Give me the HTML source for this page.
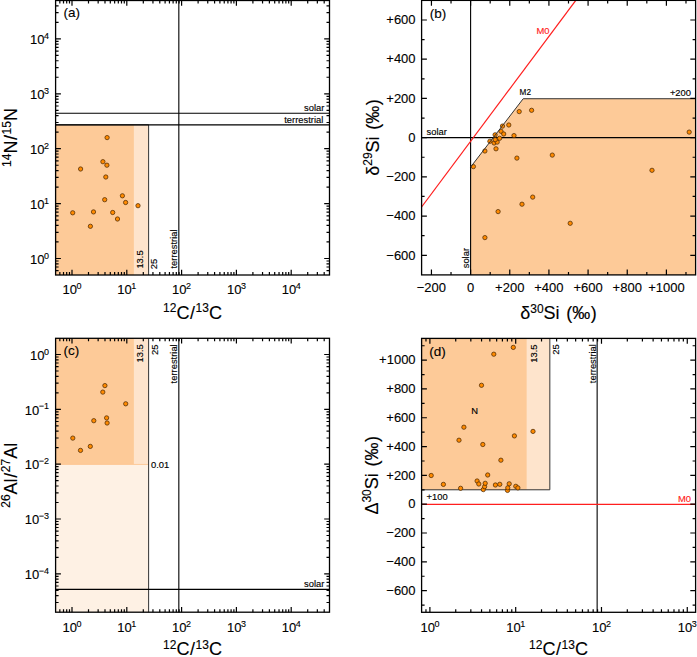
<!DOCTYPE html>
<html><head><meta charset="utf-8"><style>
html,body{margin:0;padding:0;background:#fff;width:697px;height:657px;overflow:hidden}
svg{display:block}
text{font-family:"Liberation Sans",sans-serif;stroke:currentColor;stroke-width:0.12px}
.a{stroke-width:0.15px}
</style></head><body>
<svg width="697" height="657" viewBox="0 0 697 657" font-family="Liberation Sans, sans-serif">
<rect width="697" height="657" fill="#fff"/>
<rect x="55.6" y="124.84" width="78.34" height="150.16" fill="#fdca98"/>
<rect x="133.94" y="124.84" width="14.66" height="150.16" fill="#fee4cc"/>
<path d="M148.61 275V124.84H55.6" stroke="#333" stroke-width="1" fill="none"/>
<path d="M55.6 113.32H329.5 M55.6 124.84H329.5 M178.83 0.5V275" stroke="#000" stroke-width="1.1" fill="none"/>
<circle cx="107.1" cy="137.6" r="2.15" fill="#ff8a00" stroke="#4f2a00" stroke-width="0.75"/>
<circle cx="102.9" cy="161.7" r="2.15" fill="#ff8a00" stroke="#4f2a00" stroke-width="0.75"/>
<circle cx="106.9" cy="165.2" r="2.15" fill="#ff8a00" stroke="#4f2a00" stroke-width="0.75"/>
<circle cx="80.6" cy="169" r="2.15" fill="#ff8a00" stroke="#4f2a00" stroke-width="0.75"/>
<circle cx="105.8" cy="177" r="2.15" fill="#ff8a00" stroke="#4f2a00" stroke-width="0.75"/>
<circle cx="122.4" cy="195.8" r="2.15" fill="#ff8a00" stroke="#4f2a00" stroke-width="0.75"/>
<circle cx="104.7" cy="199.7" r="2.15" fill="#ff8a00" stroke="#4f2a00" stroke-width="0.75"/>
<circle cx="125.6" cy="202.5" r="2.15" fill="#ff8a00" stroke="#4f2a00" stroke-width="0.75"/>
<circle cx="138" cy="205.7" r="2.15" fill="#ff8a00" stroke="#4f2a00" stroke-width="0.75"/>
<circle cx="72.7" cy="212.8" r="2.15" fill="#ff8a00" stroke="#4f2a00" stroke-width="0.75"/>
<circle cx="93.5" cy="211.9" r="2.15" fill="#ff8a00" stroke="#4f2a00" stroke-width="0.75"/>
<circle cx="112.7" cy="212.5" r="2.15" fill="#ff8a00" stroke="#4f2a00" stroke-width="0.75"/>
<circle cx="117.5" cy="219" r="2.15" fill="#ff8a00" stroke="#4f2a00" stroke-width="0.75"/>
<circle cx="90.4" cy="226.3" r="2.15" fill="#ff8a00" stroke="#4f2a00" stroke-width="0.75"/>
<path d="M72 275V269.7M72 0.5V5.8M126.8 275V269.7M126.8 0.5V5.8M181.6 275V269.7M181.6 0.5V5.8M236.4 275V269.7M236.4 0.5V5.8M291.2 275V269.7M291.2 0.5V5.8M59.84 275V272M59.84 0.5V3.5M63.51 275V272M63.51 0.5V3.5M66.69 275V272M66.69 0.5V3.5M69.49 275V272M69.49 0.5V3.5M88.5 275V272M88.5 0.5V3.5M98.15 275V272M98.15 0.5V3.5M104.99 275V272M104.99 0.5V3.5M110.3 275V272M110.3 0.5V3.5M114.64 275V272M114.64 0.5V3.5M118.31 275V272M118.31 0.5V3.5M121.49 275V272M121.49 0.5V3.5M124.29 275V272M124.29 0.5V3.5M143.3 275V272M143.3 0.5V3.5M152.95 275V272M152.95 0.5V3.5M159.79 275V272M159.79 0.5V3.5M165.1 275V272M165.1 0.5V3.5M169.44 275V272M169.44 0.5V3.5M173.11 275V272M173.11 0.5V3.5M176.29 275V272M176.29 0.5V3.5M179.09 275V272M179.09 0.5V3.5M198.1 275V272M198.1 0.5V3.5M207.75 275V272M207.75 0.5V3.5M214.59 275V272M214.59 0.5V3.5M219.9 275V272M219.9 0.5V3.5M224.24 275V272M224.24 0.5V3.5M227.91 275V272M227.91 0.5V3.5M231.09 275V272M231.09 0.5V3.5M233.89 275V272M233.89 0.5V3.5M252.9 275V272M252.9 0.5V3.5M262.55 275V272M262.55 0.5V3.5M269.39 275V272M269.39 0.5V3.5M274.7 275V272M274.7 0.5V3.5M279.04 275V272M279.04 0.5V3.5M282.71 275V272M282.71 0.5V3.5M285.89 275V272M285.89 0.5V3.5M288.69 275V272M288.69 0.5V3.5M307.7 275V272M307.7 0.5V3.5M317.35 275V272M317.35 0.5V3.5M324.19 275V272M324.19 0.5V3.5M55.6 258.5H60.9M329.5 258.5H324.2M55.6 203.6H60.9M329.5 203.6H324.2M55.6 148.7H60.9M329.5 148.7H324.2M55.6 93.8H60.9M329.5 93.8H324.2M55.6 38.9H60.9M329.5 38.9H324.2M55.6 270.68H58.6M329.5 270.68H326.5M55.6 267H58.6M329.5 267H326.5M55.6 263.82H58.6M329.5 263.82H326.5M55.6 261.01H58.6M329.5 261.01H326.5M55.6 241.97H58.6M329.5 241.97H326.5M55.6 232.31H58.6M329.5 232.31H326.5M55.6 225.45H58.6M329.5 225.45H326.5M55.6 220.13H58.6M329.5 220.13H326.5M55.6 215.78H58.6M329.5 215.78H326.5M55.6 212.1H58.6M329.5 212.1H326.5M55.6 208.92H58.6M329.5 208.92H326.5M55.6 206.11H58.6M329.5 206.11H326.5M55.6 187.07H58.6M329.5 187.07H326.5M55.6 177.41H58.6M329.5 177.41H326.5M55.6 170.55H58.6M329.5 170.55H326.5M55.6 165.23H58.6M329.5 165.23H326.5M55.6 160.88H58.6M329.5 160.88H326.5M55.6 157.2H58.6M329.5 157.2H326.5M55.6 154.02H58.6M329.5 154.02H326.5M55.6 151.21H58.6M329.5 151.21H326.5M55.6 132.17H58.6M329.5 132.17H326.5M55.6 122.51H58.6M329.5 122.51H326.5M55.6 115.65H58.6M329.5 115.65H326.5M55.6 110.33H58.6M329.5 110.33H326.5M55.6 105.98H58.6M329.5 105.98H326.5M55.6 102.3H58.6M329.5 102.3H326.5M55.6 99.12H58.6M329.5 99.12H326.5M55.6 96.31H58.6M329.5 96.31H326.5M55.6 77.27H58.6M329.5 77.27H326.5M55.6 67.61H58.6M329.5 67.61H326.5M55.6 60.75H58.6M329.5 60.75H326.5M55.6 55.43H58.6M329.5 55.43H326.5M55.6 51.08H58.6M329.5 51.08H326.5M55.6 47.4H58.6M329.5 47.4H326.5M55.6 44.22H58.6M329.5 44.22H326.5M55.6 41.41H58.6M329.5 41.41H326.5M55.6 22.37H58.6M329.5 22.37H326.5M55.6 12.71H58.6M329.5 12.71H326.5M55.6 5.85H58.6M329.5 5.85H326.5" stroke="#000" stroke-width="1.2" fill="none"/>
<rect x="55.6" y="0.5" width="273.9" height="274.5" fill="none" stroke="#000" stroke-width="1.3"/>
<text x="72" y="293.8" text-anchor="middle" font-size="13">10<tspan font-size="9" dx="-0.5" dy="-5.2">0</tspan></text>
<text x="49" y="263.7" text-anchor="end" font-size="13">10<tspan font-size="9" dx="-0.5" dy="-5.2">0</tspan></text>
<text x="126.8" y="293.8" text-anchor="middle" font-size="13">10<tspan font-size="9" dx="-0.5" dy="-5.2">1</tspan></text>
<text x="49" y="208.8" text-anchor="end" font-size="13">10<tspan font-size="9" dx="-0.5" dy="-5.2">1</tspan></text>
<text x="181.6" y="293.8" text-anchor="middle" font-size="13">10<tspan font-size="9" dx="-0.5" dy="-5.2">2</tspan></text>
<text x="49" y="153.9" text-anchor="end" font-size="13">10<tspan font-size="9" dx="-0.5" dy="-5.2">2</tspan></text>
<text x="236.4" y="293.8" text-anchor="middle" font-size="13">10<tspan font-size="9" dx="-0.5" dy="-5.2">3</tspan></text>
<text x="49" y="99" text-anchor="end" font-size="13">10<tspan font-size="9" dx="-0.5" dy="-5.2">3</tspan></text>
<text x="291.2" y="293.8" text-anchor="middle" font-size="13">10<tspan font-size="9" dx="-0.5" dy="-5.2">4</tspan></text>
<text x="49" y="44.1" text-anchor="end" font-size="13">10<tspan font-size="9" dx="-0.5" dy="-5.2">4</tspan></text>
<text x="63.6" y="17.4" font-size="13.5" text-anchor="start">(a)</text>
<text class="a" x="324.4" y="110.92" font-size="9.4" text-anchor="end">solar</text>
<text class="a" x="323.3" y="123.04" font-size="9.4" text-anchor="end">terrestrial</text>
<text class="a" transform="translate(143 268.6) rotate(-90)" font-size="9.4" text-anchor="start">13.5</text>
<text class="a" transform="translate(157 269.2) rotate(-90)" font-size="9.4" text-anchor="start">25</text>
<text class="a" transform="translate(177.3 268.5) rotate(-90)" font-size="9.4" text-anchor="start">terrestrial</text>
<text x="192.5" y="318.6" font-size="18" text-anchor="middle"><tspan font-size="12" dy="-6.5">12</tspan><tspan dy="6.5">C</tspan><tspan dx="0.6">/</tspan><tspan font-size="12" dx="0.6" dy="-6.5">13</tspan><tspan dy="6.5">C</tspan></text>
<text transform="translate(17.1 137.5) rotate(-90)" font-size="18" text-anchor="middle"><tspan font-size="12" dy="-6.5">14</tspan><tspan dy="6.5">N</tspan><tspan dx="0.6">/</tspan><tspan font-size="12" dx="0.6" dy="-6.5">15</tspan><tspan dy="6.5">N</tspan></text>
<path d="M470.6 274.9 V167.1 L523.2 98.73 H695.6 V274.9 Z" fill="#fdca98"/>
<path d="M421.6 137.65H695.6 M470.6 0.4V274.9" stroke="#000" stroke-width="1.1" fill="none"/>
<path d="M421.6 207L575.8 0.4" stroke="#ff1e1e" stroke-width="1.25" fill="none"/>
<circle cx="473.4" cy="166.6" r="2.15" fill="#ff8a00" stroke="#4f2a00" stroke-width="0.75"/>
<circle cx="484.9" cy="151" r="2.15" fill="#ff8a00" stroke="#4f2a00" stroke-width="0.75"/>
<circle cx="496" cy="148.8" r="2.15" fill="#ff8a00" stroke="#4f2a00" stroke-width="0.75"/>
<circle cx="489.9" cy="141.3" r="2.15" fill="#ff8a00" stroke="#4f2a00" stroke-width="0.75"/>
<circle cx="494.1" cy="143" r="2.15" fill="#ff8a00" stroke="#4f2a00" stroke-width="0.75"/>
<circle cx="497.2" cy="142.1" r="2.15" fill="#ff8a00" stroke="#4f2a00" stroke-width="0.75"/>
<circle cx="495.2" cy="139.7" r="2.15" fill="#ff8a00" stroke="#4f2a00" stroke-width="0.75"/>
<circle cx="499.6" cy="138.3" r="2.15" fill="#ff8a00" stroke="#4f2a00" stroke-width="0.75"/>
<circle cx="495.1" cy="134.8" r="2.15" fill="#ff8a00" stroke="#4f2a00" stroke-width="0.75"/>
<circle cx="501" cy="131.3" r="2.15" fill="#ff8a00" stroke="#4f2a00" stroke-width="0.75"/>
<circle cx="503.7" cy="134" r="2.15" fill="#ff8a00" stroke="#4f2a00" stroke-width="0.75"/>
<circle cx="502.5" cy="126.1" r="2.15" fill="#ff8a00" stroke="#4f2a00" stroke-width="0.75"/>
<circle cx="508.8" cy="125" r="2.15" fill="#ff8a00" stroke="#4f2a00" stroke-width="0.75"/>
<circle cx="514" cy="135.6" r="2.15" fill="#ff8a00" stroke="#4f2a00" stroke-width="0.75"/>
<circle cx="519.2" cy="111.6" r="2.15" fill="#ff8a00" stroke="#4f2a00" stroke-width="0.75"/>
<circle cx="531.6" cy="110.3" r="2.15" fill="#ff8a00" stroke="#4f2a00" stroke-width="0.75"/>
<circle cx="516.9" cy="158.1" r="2.15" fill="#ff8a00" stroke="#4f2a00" stroke-width="0.75"/>
<circle cx="552.3" cy="155.1" r="2.15" fill="#ff8a00" stroke="#4f2a00" stroke-width="0.75"/>
<circle cx="532.7" cy="197.1" r="2.15" fill="#ff8a00" stroke="#4f2a00" stroke-width="0.75"/>
<circle cx="522" cy="204.2" r="2.15" fill="#ff8a00" stroke="#4f2a00" stroke-width="0.75"/>
<circle cx="498.1" cy="211.6" r="2.15" fill="#ff8a00" stroke="#4f2a00" stroke-width="0.75"/>
<circle cx="570.2" cy="223.3" r="2.15" fill="#ff8a00" stroke="#4f2a00" stroke-width="0.75"/>
<circle cx="484.9" cy="237.6" r="2.15" fill="#ff8a00" stroke="#4f2a00" stroke-width="0.75"/>
<circle cx="652" cy="170.3" r="2.15" fill="#ff8a00" stroke="#4f2a00" stroke-width="0.75"/>
<circle cx="689.2" cy="132.1" r="2.15" fill="#ff8a00" stroke="#4f2a00" stroke-width="0.75"/>
<path d="M470.6 167.1L523.2 98.73H695.6" stroke="#333" stroke-width="1" fill="none"/>
<path d="M431.44 274.9V269.6M431.44 0.4V5.7M470.6 274.9V269.6M470.6 0.4V5.7M509.76 274.9V269.6M509.76 0.4V5.7M548.92 274.9V269.6M548.92 0.4V5.7M588.08 274.9V269.6M588.08 0.4V5.7M627.24 274.9V269.6M627.24 0.4V5.7M666.4 274.9V269.6M666.4 0.4V5.7M451.02 274.9V271.9M451.02 0.4V3.4M490.18 274.9V271.9M490.18 0.4V3.4M529.34 274.9V271.9M529.34 0.4V3.4M568.5 274.9V271.9M568.5 0.4V3.4M607.66 274.9V271.9M607.66 0.4V3.4M646.82 274.9V271.9M646.82 0.4V3.4M685.98 274.9V271.9M685.98 0.4V3.4M421.6 255.3H426.9M695.6 255.3H690.3M421.6 216.08H426.9M695.6 216.08H690.3M421.6 176.87H426.9M695.6 176.87H690.3M421.6 137.65H426.9M695.6 137.65H690.3M421.6 98.43H426.9M695.6 98.43H690.3M421.6 59.22H426.9M695.6 59.22H690.3M421.6 20H426.9M695.6 20H690.3M421.6 235.69H424.6M695.6 235.69H692.6M421.6 196.47H424.6M695.6 196.47H692.6M421.6 157.26H424.6M695.6 157.26H692.6M421.6 118.04H424.6M695.6 118.04H692.6M421.6 78.83H424.6M695.6 78.83H692.6M421.6 39.61H424.6M695.6 39.61H692.6" stroke="#000" stroke-width="1.2" fill="none"/>
<rect x="421.6" y="0.4" width="274" height="274.5" fill="none" stroke="#000" stroke-width="1.3"/>
<text x="431.44" y="291.8" font-size="13" text-anchor="middle">−200</text>
<text x="470.6" y="291.8" font-size="13" text-anchor="middle">0</text>
<text x="509.76" y="291.8" font-size="13" text-anchor="middle">+200</text>
<text x="548.92" y="291.8" font-size="13" text-anchor="middle">+400</text>
<text x="588.08" y="291.8" font-size="13" text-anchor="middle">+600</text>
<text x="627.24" y="291.8" font-size="13" text-anchor="middle">+800</text>
<text x="666.4" y="291.8" font-size="13" text-anchor="middle">+1000</text>
<text x="415.6" y="259.5" font-size="13" text-anchor="end">−600</text>
<text x="415.6" y="220.28" font-size="13" text-anchor="end">−400</text>
<text x="415.6" y="181.07" font-size="13" text-anchor="end">−200</text>
<text x="415.6" y="141.85" font-size="13" text-anchor="end">0</text>
<text x="415.6" y="102.63" font-size="13" text-anchor="end">+200</text>
<text x="415.6" y="63.42" font-size="13" text-anchor="end">+400</text>
<text x="415.6" y="24.2" font-size="13" text-anchor="end">+600</text>
<text x="429.7" y="17.6" font-size="13.5" text-anchor="start">(b)</text>
<text class="a" x="426.5" y="135" font-size="9.4" text-anchor="start">solar</text>
<text class="a" transform="translate(468.6 268.3) rotate(-90)" font-size="9.4" text-anchor="start">solar</text>
<text class="a" x="536.5" y="34.2" font-size="9.4" text-anchor="start" style="fill:#ff1e1e;stroke:#ff1e1e">M0</text>
<text x="519.6" y="95" font-size="8.2" text-anchor="start" class="a">M2</text>
<text class="a" x="691" y="95.8" font-size="9.4" text-anchor="end">+200</text>
<text x="558.5" y="319" font-size="18" text-anchor="middle">δ<tspan font-size="12" dy="-6.5">30</tspan><tspan dy="6.5">Si</tspan><tspan dx="1.6"> (‰</tspan><tspan dx="0.6">)</tspan></text>
<text transform="translate(378.7 137.5) rotate(-90)" font-size="18" text-anchor="middle">δ<tspan font-size="12" dy="-6.5">29</tspan><tspan dy="6.5">Si</tspan><tspan dx="1.6"> (‰</tspan><tspan dx="0.6">)</tspan></text>
<rect x="55.6" y="338.3" width="93.01" height="273.9" fill="#fef1e4"/>
<rect x="55.6" y="338.3" width="78.34" height="125.86" fill="#fdca98"/>
<rect x="133.94" y="338.3" width="14.66" height="125.86" fill="#fee4cc"/>
<path d="M55.6 464.46H148.61" stroke="#fcc189" stroke-width="0.8" fill="none"/>
<path d="M148.61 338.3V612.2" stroke="#333" stroke-width="1" fill="none"/>
<path d="M178.83 338.3V612.2 M55.6 589.39H329.5" stroke="#000" stroke-width="1.1" fill="none"/>
<circle cx="104.9" cy="385.6" r="2.15" fill="#ff8a00" stroke="#4f2a00" stroke-width="0.75"/>
<circle cx="102.8" cy="392.1" r="2.15" fill="#ff8a00" stroke="#4f2a00" stroke-width="0.75"/>
<circle cx="125.7" cy="403.8" r="2.15" fill="#ff8a00" stroke="#4f2a00" stroke-width="0.75"/>
<circle cx="106.6" cy="417.9" r="2.15" fill="#ff8a00" stroke="#4f2a00" stroke-width="0.75"/>
<circle cx="93.8" cy="420.7" r="2.15" fill="#ff8a00" stroke="#4f2a00" stroke-width="0.75"/>
<circle cx="107.1" cy="423" r="2.15" fill="#ff8a00" stroke="#4f2a00" stroke-width="0.75"/>
<circle cx="72.8" cy="438.1" r="2.15" fill="#ff8a00" stroke="#4f2a00" stroke-width="0.75"/>
<circle cx="90.3" cy="446.4" r="2.15" fill="#ff8a00" stroke="#4f2a00" stroke-width="0.75"/>
<circle cx="80.5" cy="450.4" r="2.15" fill="#ff8a00" stroke="#4f2a00" stroke-width="0.75"/>
<path d="M72 612.2V606.9M72 338.3V343.6M126.8 612.2V606.9M126.8 338.3V343.6M181.6 612.2V606.9M181.6 338.3V343.6M236.4 612.2V606.9M236.4 338.3V343.6M291.2 612.2V606.9M291.2 338.3V343.6M59.84 612.2V609.2M59.84 338.3V341.3M63.51 612.2V609.2M63.51 338.3V341.3M66.69 612.2V609.2M66.69 338.3V341.3M69.49 612.2V609.2M69.49 338.3V341.3M88.5 612.2V609.2M88.5 338.3V341.3M98.15 612.2V609.2M98.15 338.3V341.3M104.99 612.2V609.2M104.99 338.3V341.3M110.3 612.2V609.2M110.3 338.3V341.3M114.64 612.2V609.2M114.64 338.3V341.3M118.31 612.2V609.2M118.31 338.3V341.3M121.49 612.2V609.2M121.49 338.3V341.3M124.29 612.2V609.2M124.29 338.3V341.3M143.3 612.2V609.2M143.3 338.3V341.3M152.95 612.2V609.2M152.95 338.3V341.3M159.79 612.2V609.2M159.79 338.3V341.3M165.1 612.2V609.2M165.1 338.3V341.3M169.44 612.2V609.2M169.44 338.3V341.3M173.11 612.2V609.2M173.11 338.3V341.3M176.29 612.2V609.2M176.29 338.3V341.3M179.09 612.2V609.2M179.09 338.3V341.3M198.1 612.2V609.2M198.1 338.3V341.3M207.75 612.2V609.2M207.75 338.3V341.3M214.59 612.2V609.2M214.59 338.3V341.3M219.9 612.2V609.2M219.9 338.3V341.3M224.24 612.2V609.2M224.24 338.3V341.3M227.91 612.2V609.2M227.91 338.3V341.3M231.09 612.2V609.2M231.09 338.3V341.3M233.89 612.2V609.2M233.89 338.3V341.3M252.9 612.2V609.2M252.9 338.3V341.3M262.55 612.2V609.2M262.55 338.3V341.3M269.39 612.2V609.2M269.39 338.3V341.3M274.7 612.2V609.2M274.7 338.3V341.3M279.04 612.2V609.2M279.04 338.3V341.3M282.71 612.2V609.2M282.71 338.3V341.3M285.89 612.2V609.2M285.89 338.3V341.3M288.69 612.2V609.2M288.69 338.3V341.3M307.7 612.2V609.2M307.7 338.3V341.3M317.35 612.2V609.2M317.35 338.3V341.3M324.19 612.2V609.2M324.19 338.3V341.3M55.6 573.82H60.9M329.5 573.82H324.2M55.6 518.99H60.9M329.5 518.99H324.2M55.6 464.16H60.9M329.5 464.16H324.2M55.6 409.33H60.9M329.5 409.33H324.2M55.6 354.5H60.9M329.5 354.5H324.2M55.6 602.49H58.6M329.5 602.49H326.5M55.6 595.64H58.6M329.5 595.64H326.5M55.6 590.33H58.6M329.5 590.33H326.5M55.6 585.98H58.6M329.5 585.98H326.5M55.6 582.31H58.6M329.5 582.31H326.5M55.6 579.13H58.6M329.5 579.13H326.5M55.6 576.33H58.6M329.5 576.33H326.5M55.6 557.31H58.6M329.5 557.31H326.5M55.6 547.66H58.6M329.5 547.66H326.5M55.6 540.81H58.6M329.5 540.81H326.5M55.6 535.5H58.6M329.5 535.5H326.5M55.6 531.15H58.6M329.5 531.15H326.5M55.6 527.48H58.6M329.5 527.48H326.5M55.6 524.3H58.6M329.5 524.3H326.5M55.6 521.5H58.6M329.5 521.5H326.5M55.6 502.48H58.6M329.5 502.48H326.5M55.6 492.83H58.6M329.5 492.83H326.5M55.6 485.98H58.6M329.5 485.98H326.5M55.6 480.67H58.6M329.5 480.67H326.5M55.6 476.32H58.6M329.5 476.32H326.5M55.6 472.65H58.6M329.5 472.65H326.5M55.6 469.47H58.6M329.5 469.47H326.5M55.6 466.67H58.6M329.5 466.67H326.5M55.6 447.65H58.6M329.5 447.65H326.5M55.6 438H58.6M329.5 438H326.5M55.6 431.15H58.6M329.5 431.15H326.5M55.6 425.84H58.6M329.5 425.84H326.5M55.6 421.49H58.6M329.5 421.49H326.5M55.6 417.82H58.6M329.5 417.82H326.5M55.6 414.64H58.6M329.5 414.64H326.5M55.6 411.84H58.6M329.5 411.84H326.5M55.6 392.82H58.6M329.5 392.82H326.5M55.6 383.17H58.6M329.5 383.17H326.5M55.6 376.32H58.6M329.5 376.32H326.5M55.6 371.01H58.6M329.5 371.01H326.5M55.6 366.66H58.6M329.5 366.66H326.5M55.6 362.99H58.6M329.5 362.99H326.5M55.6 359.81H58.6M329.5 359.81H326.5M55.6 357.01H58.6M329.5 357.01H326.5" stroke="#000" stroke-width="1.2" fill="none"/>
<rect x="55.6" y="338.3" width="273.9" height="273.9" fill="none" stroke="#000" stroke-width="1.3"/>
<text x="72" y="631.9" text-anchor="middle" font-size="13">10<tspan font-size="9" dx="-0.5" dy="-5.2">0</tspan></text>
<text x="126.8" y="631.9" text-anchor="middle" font-size="13">10<tspan font-size="9" dx="-0.5" dy="-5.2">1</tspan></text>
<text x="181.6" y="631.9" text-anchor="middle" font-size="13">10<tspan font-size="9" dx="-0.5" dy="-5.2">2</tspan></text>
<text x="236.4" y="631.9" text-anchor="middle" font-size="13">10<tspan font-size="9" dx="-0.5" dy="-5.2">3</tspan></text>
<text x="291.2" y="631.9" text-anchor="middle" font-size="13">10<tspan font-size="9" dx="-0.5" dy="-5.2">4</tspan></text>
<text x="49" y="579.02" text-anchor="end" font-size="13">10<tspan font-size="9" dx="-0.5" dy="-5.2">−4</tspan></text>
<text x="49" y="524.19" text-anchor="end" font-size="13">10<tspan font-size="9" dx="-0.5" dy="-5.2">−3</tspan></text>
<text x="49" y="469.36" text-anchor="end" font-size="13">10<tspan font-size="9" dx="-0.5" dy="-5.2">−2</tspan></text>
<text x="49" y="414.53" text-anchor="end" font-size="13">10<tspan font-size="9" dx="-0.5" dy="-5.2">−1</tspan></text>
<text x="49" y="359.7" text-anchor="end" font-size="13">10<tspan font-size="9" dx="-0.5" dy="-5.2">0</tspan></text>
<text x="63.6" y="355.4" font-size="13.5" text-anchor="start">(c)</text>
<text class="a" x="324.4" y="587.19" font-size="9.4" text-anchor="end">solar</text>
<text class="a" x="151" y="468.36" font-size="9.4" text-anchor="start">0.01</text>
<text class="a" transform="translate(143 344.3) rotate(-90)" font-size="9.4" text-anchor="end">13.5</text>
<text class="a" transform="translate(157.5 344.5) rotate(-90)" font-size="9.4" text-anchor="end">25</text>
<text class="a" transform="translate(177.3 344.3) rotate(-90)" font-size="9.4" text-anchor="end">terrestrial</text>
<text x="192.5" y="655" font-size="18" text-anchor="middle"><tspan font-size="12" dy="-6.5">12</tspan><tspan dy="6.5">C</tspan><tspan dx="0.6">/</tspan><tspan font-size="12" dx="0.6" dy="-6.5">13</tspan><tspan dy="6.5">C</tspan></text>
<text transform="translate(16.9 475.3) rotate(-90)" font-size="18" text-anchor="middle"><tspan font-size="12" dy="-6.5">26</tspan><tspan dy="6.5">Al</tspan><tspan dx="0.6">/</tspan><tspan font-size="12" dx="0.6" dy="-6.5">27</tspan><tspan dy="6.5">Al</tspan></text>
<rect x="421.6" y="338.4" width="105.27" height="151.39" fill="#fdca98"/>
<rect x="526.87" y="338.4" width="22.96" height="151.39" fill="#fee4cc"/>
<path d="M421.6 489.79H549.83V338.4" stroke="#333" stroke-width="1" fill="none"/>
<path d="M597.14 338.4V612.3" stroke="#000" stroke-width="1.1" fill="none"/>
<path d="M421.6 504.4H695.6" stroke="#ff1e1e" stroke-width="1.1" fill="none"/>
<circle cx="513.3" cy="347.4" r="2.15" fill="#ff8a00" stroke="#4f2a00" stroke-width="0.75"/>
<circle cx="493.8" cy="354.2" r="2.15" fill="#ff8a00" stroke="#4f2a00" stroke-width="0.75"/>
<circle cx="481.5" cy="385.3" r="2.15" fill="#ff8a00" stroke="#4f2a00" stroke-width="0.75"/>
<circle cx="463.9" cy="427.2" r="2.15" fill="#ff8a00" stroke="#4f2a00" stroke-width="0.75"/>
<circle cx="533" cy="431.4" r="2.15" fill="#ff8a00" stroke="#4f2a00" stroke-width="0.75"/>
<circle cx="514.4" cy="435.9" r="2.15" fill="#ff8a00" stroke="#4f2a00" stroke-width="0.75"/>
<circle cx="459" cy="440.2" r="2.15" fill="#ff8a00" stroke="#4f2a00" stroke-width="0.75"/>
<circle cx="482.8" cy="444.5" r="2.15" fill="#ff8a00" stroke="#4f2a00" stroke-width="0.75"/>
<circle cx="500.9" cy="460.2" r="2.15" fill="#ff8a00" stroke="#4f2a00" stroke-width="0.75"/>
<circle cx="431.2" cy="475.5" r="2.15" fill="#ff8a00" stroke="#4f2a00" stroke-width="0.75"/>
<circle cx="487.7" cy="475" r="2.15" fill="#ff8a00" stroke="#4f2a00" stroke-width="0.75"/>
<circle cx="443.4" cy="484.4" r="2.15" fill="#ff8a00" stroke="#4f2a00" stroke-width="0.75"/>
<circle cx="477.1" cy="481" r="2.15" fill="#ff8a00" stroke="#4f2a00" stroke-width="0.75"/>
<circle cx="478.8" cy="484" r="2.15" fill="#ff8a00" stroke="#4f2a00" stroke-width="0.75"/>
<circle cx="483.3" cy="489.6" r="2.15" fill="#ff8a00" stroke="#4f2a00" stroke-width="0.75"/>
<circle cx="484.6" cy="486.7" r="2.15" fill="#ff8a00" stroke="#4f2a00" stroke-width="0.75"/>
<circle cx="485.2" cy="483.3" r="2.15" fill="#ff8a00" stroke="#4f2a00" stroke-width="0.75"/>
<circle cx="495.4" cy="485" r="2.15" fill="#ff8a00" stroke="#4f2a00" stroke-width="0.75"/>
<circle cx="499.8" cy="484.3" r="2.15" fill="#ff8a00" stroke="#4f2a00" stroke-width="0.75"/>
<circle cx="507.5" cy="490.4" r="2.15" fill="#ff8a00" stroke="#4f2a00" stroke-width="0.75"/>
<circle cx="507.8" cy="487.8" r="2.15" fill="#ff8a00" stroke="#4f2a00" stroke-width="0.75"/>
<circle cx="509.2" cy="483.8" r="2.15" fill="#ff8a00" stroke="#4f2a00" stroke-width="0.75"/>
<circle cx="515.8" cy="486.3" r="2.15" fill="#ff8a00" stroke="#4f2a00" stroke-width="0.75"/>
<circle cx="517.9" cy="487.9" r="2.15" fill="#ff8a00" stroke="#4f2a00" stroke-width="0.75"/>
<circle cx="460.6" cy="488.3" r="2.15" fill="#ff8a00" stroke="#4f2a00" stroke-width="0.75"/>
<path d="M429.9 612.3V607M429.9 338.4V343.7M515.69 612.3V607M515.69 338.4V343.7M601.48 612.3V607M601.48 338.4V343.7M687.27 612.3V607M687.27 338.4V343.7M425.97 612.3V609.3M425.97 338.4V341.4M455.73 612.3V609.3M455.73 338.4V341.4M470.83 612.3V609.3M470.83 338.4V341.4M481.55 612.3V609.3M481.55 338.4V341.4M489.86 612.3V609.3M489.86 338.4V341.4M496.66 612.3V609.3M496.66 338.4V341.4M502.4 612.3V609.3M502.4 338.4V341.4M507.38 612.3V609.3M507.38 338.4V341.4M511.76 612.3V609.3M511.76 338.4V341.4M541.52 612.3V609.3M541.52 338.4V341.4M556.62 612.3V609.3M556.62 338.4V341.4M567.34 612.3V609.3M567.34 338.4V341.4M575.65 612.3V609.3M575.65 338.4V341.4M582.45 612.3V609.3M582.45 338.4V341.4M588.19 612.3V609.3M588.19 338.4V341.4M593.17 612.3V609.3M593.17 338.4V341.4M597.55 612.3V609.3M597.55 338.4V341.4M627.31 612.3V609.3M627.31 338.4V341.4M642.41 612.3V609.3M642.41 338.4V341.4M653.13 612.3V609.3M653.13 338.4V341.4M661.44 612.3V609.3M661.44 338.4V341.4M668.24 612.3V609.3M668.24 338.4V341.4M673.98 612.3V609.3M673.98 338.4V341.4M678.96 612.3V609.3M678.96 338.4V341.4M683.34 612.3V609.3M683.34 338.4V341.4M421.6 590.64H426.9M695.6 590.64H690.3M421.6 561.82H426.9M695.6 561.82H690.3M421.6 533.01H426.9M695.6 533.01H690.3M421.6 504.2H426.9M695.6 504.2H690.3M421.6 475.39H426.9M695.6 475.39H690.3M421.6 446.58H426.9M695.6 446.58H690.3M421.6 417.76H426.9M695.6 417.76H690.3M421.6 388.95H426.9M695.6 388.95H690.3M421.6 360.14H426.9M695.6 360.14H690.3M421.6 605.04H424.6M695.6 605.04H692.6M421.6 576.23H424.6M695.6 576.23H692.6M421.6 547.42H424.6M695.6 547.42H692.6M421.6 518.61H424.6M695.6 518.61H692.6M421.6 489.79H424.6M695.6 489.79H692.6M421.6 460.98H424.6M695.6 460.98H692.6M421.6 432.17H424.6M695.6 432.17H692.6M421.6 403.36H424.6M695.6 403.36H692.6M421.6 374.55H424.6M695.6 374.55H692.6M421.6 345.73H424.6M695.6 345.73H692.6" stroke="#000" stroke-width="1.2" fill="none"/>
<rect x="421.6" y="338.4" width="274" height="273.9" fill="none" stroke="#000" stroke-width="1.3"/>
<text x="429.9" y="631.9" text-anchor="middle" font-size="13">10<tspan font-size="9" dx="-0.5" dy="-5.2">0</tspan></text>
<text x="515.69" y="631.9" text-anchor="middle" font-size="13">10<tspan font-size="9" dx="-0.5" dy="-5.2">1</tspan></text>
<text x="601.48" y="631.9" text-anchor="middle" font-size="13">10<tspan font-size="9" dx="-0.5" dy="-5.2">2</tspan></text>
<text x="687.27" y="631.9" text-anchor="middle" font-size="13">10<tspan font-size="9" dx="-0.5" dy="-5.2">3</tspan></text>
<text x="415.6" y="594.84" font-size="13" text-anchor="end">−600</text>
<text x="415.6" y="566.02" font-size="13" text-anchor="end">−400</text>
<text x="415.6" y="537.21" font-size="13" text-anchor="end">−200</text>
<text x="415.6" y="508.4" font-size="13" text-anchor="end">0</text>
<text x="415.6" y="479.59" font-size="13" text-anchor="end">+200</text>
<text x="415.6" y="450.78" font-size="13" text-anchor="end">+400</text>
<text x="415.6" y="421.96" font-size="13" text-anchor="end">+600</text>
<text x="415.6" y="393.15" font-size="13" text-anchor="end">+800</text>
<text x="415.6" y="364.34" font-size="13" text-anchor="end">+1000</text>
<text x="429.2" y="355.6" font-size="13.5" text-anchor="start">(d)</text>
<text class="a" x="471.3" y="413.8" font-size="9.4" text-anchor="start">N</text>
<text class="a" x="426.5" y="500" font-size="9.4" text-anchor="start">+100</text>
<text class="a" x="691" y="501.8" font-size="9.4" text-anchor="end" style="fill:#ff1e1e;stroke:#ff1e1e">M0</text>
<text class="a" transform="translate(536.8 344.5) rotate(-90)" font-size="9.4" text-anchor="end">13.5</text>
<text class="a" transform="translate(559.2 344.3) rotate(-90)" font-size="9.4" text-anchor="end">25</text>
<text class="a" transform="translate(595.5 344.1) rotate(-90)" font-size="9.4" text-anchor="end">terrestrial</text>
<text x="558.5" y="655" font-size="18" text-anchor="middle"><tspan font-size="12" dy="-6.5">12</tspan><tspan dy="6.5">C</tspan><tspan dx="0.6">/</tspan><tspan font-size="12" dx="0.6" dy="-6.5">13</tspan><tspan dy="6.5">C</tspan></text>
<text transform="translate(377.6 475.3) rotate(-90)" font-size="18" text-anchor="middle">Δ<tspan font-size="12" dy="-6.5">30</tspan><tspan dy="6.5">Si</tspan><tspan dx="1.6"> (‰</tspan><tspan dx="0.6">)</tspan></text>
</svg>
</body></html>
